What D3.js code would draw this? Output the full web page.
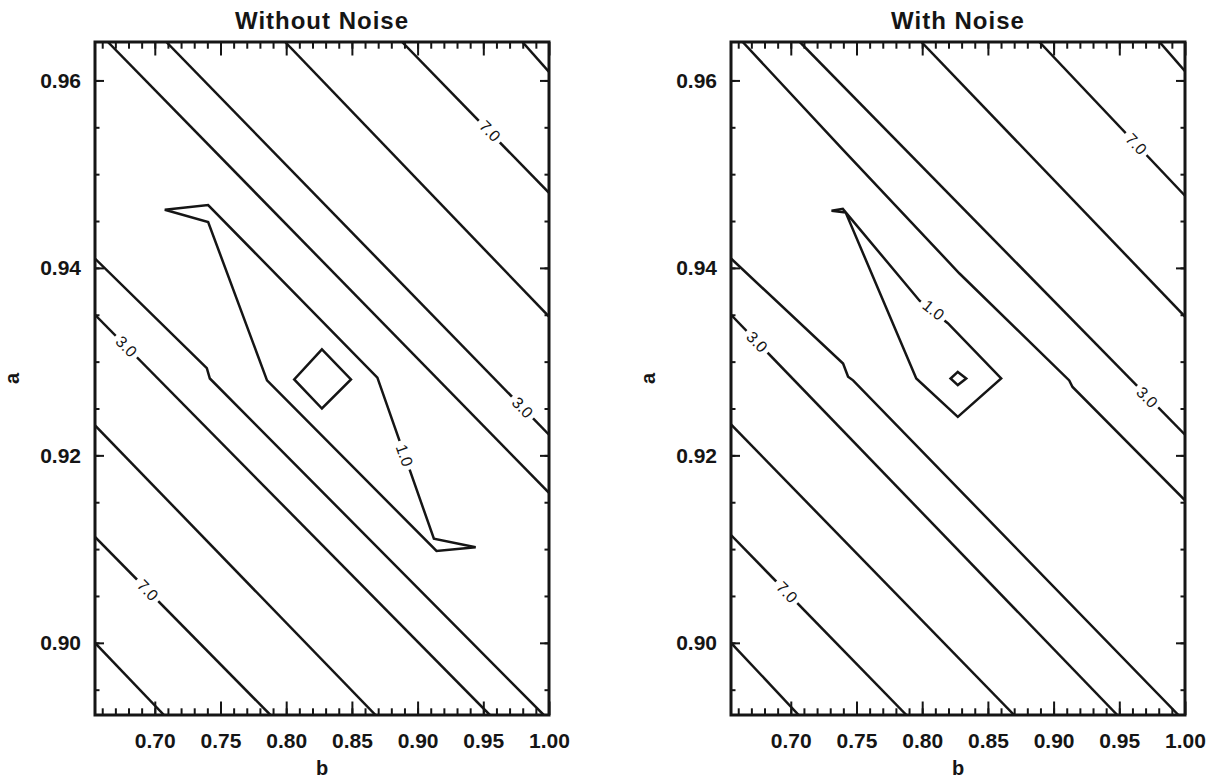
<!DOCTYPE html>
<html>
<head>
<meta charset="utf-8">
<script src="https://cdn.jsdelivr.net/npm/d3@7"></script>
<style>
  body { margin: 0; background: #fff; }
  svg { display: block; }
  text { font-family: 'Liberation Sans', Arial, sans-serif; fill: #151515; }
</style>
</head>
<body>
<svg id="chart" width="1229" height="782"></svg>
<script>
// axis ranges (same for both panels)
const bRange = [0.6545, 1.0];
const aRange = [0.8923, 0.9641];
const bTicks = [0.70, 0.75, 0.80, 0.85, 0.90, 0.95, 1.00];
const aTicks = [0.90, 0.92, 0.94, 0.96];
const titles = ['Without Noise', 'With Noise'];

// contour lines as [b, a] points
const cleanContours = [
  { level: 1, closed: true, pts: [[0.7076, 0.9462], [0.7406, 0.9467], [0.8694, 0.9283], [0.9124, 0.9111], [0.9442, 0.9102], [0.9144, 0.9098], [0.7854, 0.9280], [0.7406, 0.9449]] },
  { level: 1, closed: true, pts: [[0.8272, 0.9313], [0.8493, 0.9281], [0.8272, 0.9250], [0.8061, 0.9281]] },
  { level: 2, pts: [[0.6643, 0.9641], [1.0, 0.9160]] },
  { level: 2, pts: [[0.6545, 0.9410], [0.7396, 0.9293], [0.7419, 0.9282], [0.996, 0.8923]] },
  { level: 3, pts: [[0.7088, 0.9641], [1.0, 0.9222]] },
  { level: 3, pts: [[0.6545, 0.9350], [0.955, 0.8923]] },
  { level: 5, pts: [[0.7992, 0.9641], [1.0, 0.9348]] },
  { level: 5, pts: [[0.6545, 0.9232], [0.868, 0.8923]] },
  { level: 7, pts: [[0.8882, 0.9641], [1.0, 0.9480]] },
  { level: 7, pts: [[0.6545, 0.9113], [0.788, 0.8923]] },
  { level: 9, pts: [[0.9798, 0.9641], [1.0, 0.9609]] },
  { level: 9, pts: [[0.6545, 0.9000], [0.707, 0.8923]] }
];
const cleanLabels = [
  { level: 7, at: [0.955, 0.9546] },
  { level: 3, at: [0.9798, 0.9251] },
  { level: 3, at: [0.6783, 0.9316] },
  { level: 7, at: [0.6946, 0.9056] },
  { level: 1, at: [0.8900, 0.9200] }
];

const noisyContours = [
  { level: 1, closed: true, pts: [[0.7310, 0.9461], [0.7396, 0.9463], [0.7980, 0.9365], [0.8195, 0.9341], [0.8601, 0.9282], [0.8271, 0.9241], [0.7955, 0.9282], [0.7418, 0.9459]] },
  { level: 1, closed: true, pts: [[0.8271, 0.9289], [0.8335, 0.9282], [0.8271, 0.9275], [0.8216, 0.9282]] },
  { level: 2, pts: [[0.6634, 0.9641], [0.7398, 0.9526], [0.8284, 0.9394], [0.9119, 0.9280], [0.9144, 0.9273], [1.0, 0.9152]] },
  { level: 2, pts: [[0.6545, 0.9410], [0.7398, 0.9298], [0.7436, 0.9284], [0.7474, 0.9280], [0.995, 0.8923]] },
  { level: 3, pts: [[0.7069, 0.9641], [1.0, 0.9222]] },
  { level: 3, pts: [[0.6545, 0.9350], [0.9485, 0.8923]] },
  { level: 5, pts: [[0.7994, 0.9641], [1.0, 0.9348]] },
  { level: 5, pts: [[0.6545, 0.9233], [0.870, 0.8923]] },
  { level: 7, pts: [[0.8892, 0.9641], [1.0, 0.9477]] },
  { level: 7, pts: [[0.6545, 0.9115], [0.788, 0.8923]] },
  { level: 9, pts: [[0.9806, 0.9641], [1.0, 0.9610]] },
  { level: 9, pts: [[0.6545, 0.9000], [0.706, 0.8923]] }
];
const noisyLabels = [
  { level: 7, at: [0.9628, 0.9532] },
  { level: 3, at: [0.9711, 0.9262] },
  { level: 3, at: [0.6742, 0.9321] },
  { level: 7, at: [0.6970, 0.9054] },
  { level: 1, at: [0.8086, 0.9355] }
];

const panels = [
  { left: 95, title: titles[0], contours: cleanContours, labels: cleanLabels },
  { left: 731, title: titles[1], contours: noisyContours, labels: noisyLabels }
];

const plotTop = 42;
const plotW = 454;
const plotH = 673;
const ink = '#151515';

const svg = d3.select('#chart');

const x = d3.scaleLinear().domain(bRange).range([0, plotW]);
const y = d3.scaleLinear().domain(aRange).range([plotH, 0]);

const bMinor = d3.range(66, 100).map((d) => d / 100).filter((d) => d < bRange[1]);
const aMinor = d3.range(179, 193).map((d) => d / 200).filter((d) => d > aRange[0] && d < aRange[1]);

const line = d3.line().x((d) => x(d[0])).y((d) => y(d[1]));
const fmt = d3.format('.1f');

panels.forEach((p, pi) => {
  const g = svg.append('g').attr('transform', `translate(${p.left},${plotTop})`);

  g.append('clipPath')
    .attr('id', `clip-${pi}`)
    .append('rect')
    .attr('width', plotW)
    .attr('height', plotH);

  const body = g.append('g').attr('clip-path', `url(#clip-${pi})`);

  // contour lines
  body.selectAll('path.contour')
    .data(p.contours)
    .enter()
    .append('path')
    .attr('class', 'contour')
    .attr('d', (d) => line(d.pts) + (d.closed ? 'Z' : ''))
    .attr('fill', 'none')
    .attr('stroke', ink)
    .attr('stroke-width', 2.5)
    .attr('stroke-linejoin', 'miter');

  // contour labels: white gap in the line, text along the segment
  p.labels.forEach((lb) => {
    const px = x(lb.at[0]);
    const py = y(lb.at[1]);
    // find the nearest segment among contours of that level
    let best = null;
    p.contours.filter((c) => c.level === lb.level).forEach((c) => {
      const pts = c.closed ? c.pts.concat([c.pts[0]]) : c.pts;
      for (let i = 0; i < pts.length - 1; i++) {
        const x1 = x(pts[i][0]), y1 = y(pts[i][1]);
        const x2 = x(pts[i + 1][0]), y2 = y(pts[i + 1][1]);
        const dx = x2 - x1, dy = y2 - y1;
        const t = Math.max(0, Math.min(1, ((px - x1) * dx + (py - y1) * dy) / (dx * dx + dy * dy)));
        const dist = Math.hypot(x1 + t * dx - px, y1 + t * dy - py);
        if (!best || dist < best.dist) best = { dist, angle: Math.atan2(dy, dx) * 180 / Math.PI };
      }
    });
    let angle = best ? best.angle : 0;
    if (angle > 90) angle -= 180;
    if (angle < -90) angle += 180;

    const lg = body.append('g').attr('transform', `translate(${px},${py}) rotate(${angle})`);
    const gap = lg.append('rect').attr('fill', '#fff');
    const t = lg.append('text')
      .attr('text-anchor', 'middle')
      .attr('dominant-baseline', 'central')
      .style('font-size', '16px')
      .text(fmt(lb.level));
    const w = t.node().getComputedTextLength() + 8;
    gap.attr('x', -w / 2).attr('y', -6).attr('width', w).attr('height', 12);
  });

  // axes: major and minor ticks, pointing inward on all four sides
  const axisStyle = (sel) => {
    sel.select('.domain').remove();
    sel.selectAll('.tick line').attr('stroke', ink).attr('stroke-width', 2);
    sel.selectAll('.tick text')
      .attr('fill', ink)
      .style('font-size', '21px')
      .style('font-weight', 'bold');
  };

  g.append('g')
    .attr('transform', `translate(0,${plotH})`)
    .call(d3.axisBottom(x).tickValues(bMinor).tickSize(-6.7).tickFormat(''))
    .call(axisStyle);
  g.append('g')
    .attr('transform', `translate(0,${plotH})`)
    .call(d3.axisBottom(x).tickValues(bTicks).tickSize(-13.5).tickPadding(18).tickFormat(d3.format('.2f')))
    .call(axisStyle);
  g.append('g')
    .call(d3.axisTop(x).tickValues(bMinor).tickSize(-6.7).tickFormat(''))
    .call(axisStyle);
  g.append('g')
    .call(d3.axisTop(x).tickValues(bTicks).tickSize(-13.5).tickFormat(''))
    .call(axisStyle);

  g.append('g')
    .call(d3.axisLeft(y).tickValues(aMinor).tickSize(-4.5).tickFormat(''))
    .call(axisStyle);
  g.append('g')
    .call(d3.axisLeft(y).tickValues(aTicks).tickSize(-9).tickPadding(14).tickFormat(d3.format('.2f')))
    .call(axisStyle);
  g.append('g')
    .attr('transform', `translate(${plotW},0)`)
    .call(d3.axisRight(y).tickValues(aMinor).tickSize(-4.5).tickFormat(''))
    .call(axisStyle);
  g.append('g')
    .attr('transform', `translate(${plotW},0)`)
    .call(d3.axisRight(y).tickValues(aTicks).tickSize(-9).tickFormat(''))
    .call(axisStyle);

  // frame
  g.append('rect')
    .attr('width', plotW)
    .attr('height', plotH)
    .attr('fill', 'none')
    .attr('stroke', ink)
    .attr('stroke-width', 3);

  // titles and axis names
  g.append('text')
    .attr('x', plotW / 2)
    .attr('y', -13)
    .attr('text-anchor', 'middle')
    .style('font-size', '24px')
    .style('font-weight', 'bold')
    .style('letter-spacing', '1px')
    .text(p.title);

  g.append('text')
    .attr('x', plotW / 2)
    .attr('y', plotH + 60)
    .attr('text-anchor', 'middle')
    .style('font-size', '20px')
    .style('font-weight', 'bold')
    .text('b');

  g.append('text')
    .attr('transform', `translate(-76,${plotH / 2}) rotate(-90)`)
    .attr('text-anchor', 'middle')
    .style('font-size', '20px')
    .style('font-weight', 'bold')
    .text('a');
});
</script>
</body>
</html>
